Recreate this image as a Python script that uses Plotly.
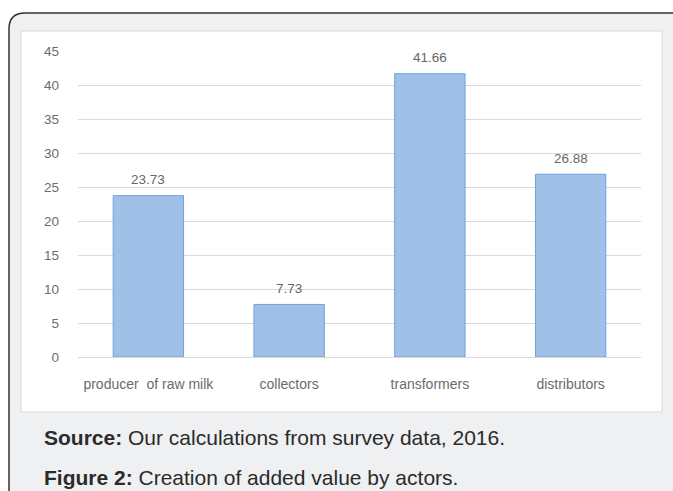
import plotly.graph_objects as go

categories = ["producer  of raw milk", "collectors", "transformers", "distributors"]
values = [23.73, 7.73, 41.66, 26.88]
value_labels = ["23.73", "7.73", "41.66", "26.88"]
y_ticks = [0, 5, 10, 15, 20, 25, 30, 35, 40, 45]

W, H = 673, 491
L, R, T, B = 78, 641, 51, 357
FONT = "Liberation Sans, Arial, sans-serif"


def px(x):
    return (x - L) / (R - L)


def py(y):
    return (B - y) / (B - T)


def rounded_path(x0, y0, x1, y1, r):
    pts = [
        f"M {px(x0 + r)},{py(y0)}",
        f"L {px(x1 - r)},{py(y0)}",
        f"Q {px(x1)},{py(y0)} {px(x1)},{py(y0 + r)}",
        f"L {px(x1)},{py(y1 - r)}",
        f"Q {px(x1)},{py(y1)} {px(x1 - r)},{py(y1)}",
        f"L {px(x0 + r)},{py(y1)}",
        f"Q {px(x0)},{py(y1)} {px(x0)},{py(y1 - r)}",
        f"L {px(x0)},{py(y0 + r)}",
        f"Q {px(x0)},{py(y0)} {px(x0 + r)},{py(y0)}",
        "Z",
    ]
    return " ".join(pts)


fig = go.Figure()
fig.add_trace(go.Bar(
    x=categories,
    y=values,
    width=0.5,
    marker=dict(color="#a0c1e7", line=dict(color="#6fa2da", width=1)),
    cliponaxis=False,
))

shapes = [
    dict(type="path", xref="paper", yref="paper",
         path=rounded_path(9, 13, 690, 520, 16),
         fillcolor="#eff0f1", line=dict(color="#333333", width=1.5), layer="below"),
    dict(type="rect", xref="paper", yref="paper",
         x0=px(21), x1=px(662), y0=py(412), y1=py(31),
         fillcolor="#ffffff", line=dict(color="#d9d9d9", width=1), layer="below"),
]

annotations = [
    dict(x=c, y=v, xref="x", yref="y", text=t, showarrow=False,
         yanchor="middle", yshift=16,
         font=dict(family=FONT, size=13.5, color="#666666"))
    for c, v, t in zip(categories, values, value_labels)
]

annotations += [
    dict(xref="paper", yref="paper", x=px(42), y=py(437), xanchor="left", yanchor="middle",
         text="<b>Source:</b> Our calculations from survey data, 2016.", showarrow=False,
         font=dict(family=FONT, size=21, color="#2b2b2b")),
    dict(xref="paper", yref="paper", x=px(42), y=py(477), xanchor="left", yanchor="middle",
         text="<b>Figure 2:</b> Creation of added value by actors.", showarrow=False,
         font=dict(family=FONT, size=21, color="#2b2b2b")),
]

fig.update_layout(
    width=W, height=H,
    margin=dict(l=L, r=W - R, t=T, b=H - B),
    paper_bgcolor="#ffffff",
    plot_bgcolor="rgba(0,0,0,0)",
    showlegend=False,
    shapes=shapes,
    annotations=annotations,
    bargap=0.5,
)
fig.update_xaxes(
    showgrid=False, showline=False, zeroline=False, ticks="",
    tickfont=dict(family=FONT, size=14, color="#6b6b6b"),
    ticklabelstandoff=17,
)
fig.update_yaxes(
    range=[0, 45], tickvals=y_ticks,
    showgrid=True, gridcolor="#d9d9d9", gridwidth=1,
    zeroline=True, zerolinecolor="#d9d9d9", zerolinewidth=1,
    showline=False, ticks="",
    tickfont=dict(family=FONT, size=13.5, color="#6b6b6b"),
    ticklabelstandoff=18,
)

fig.write_html("out.html")
